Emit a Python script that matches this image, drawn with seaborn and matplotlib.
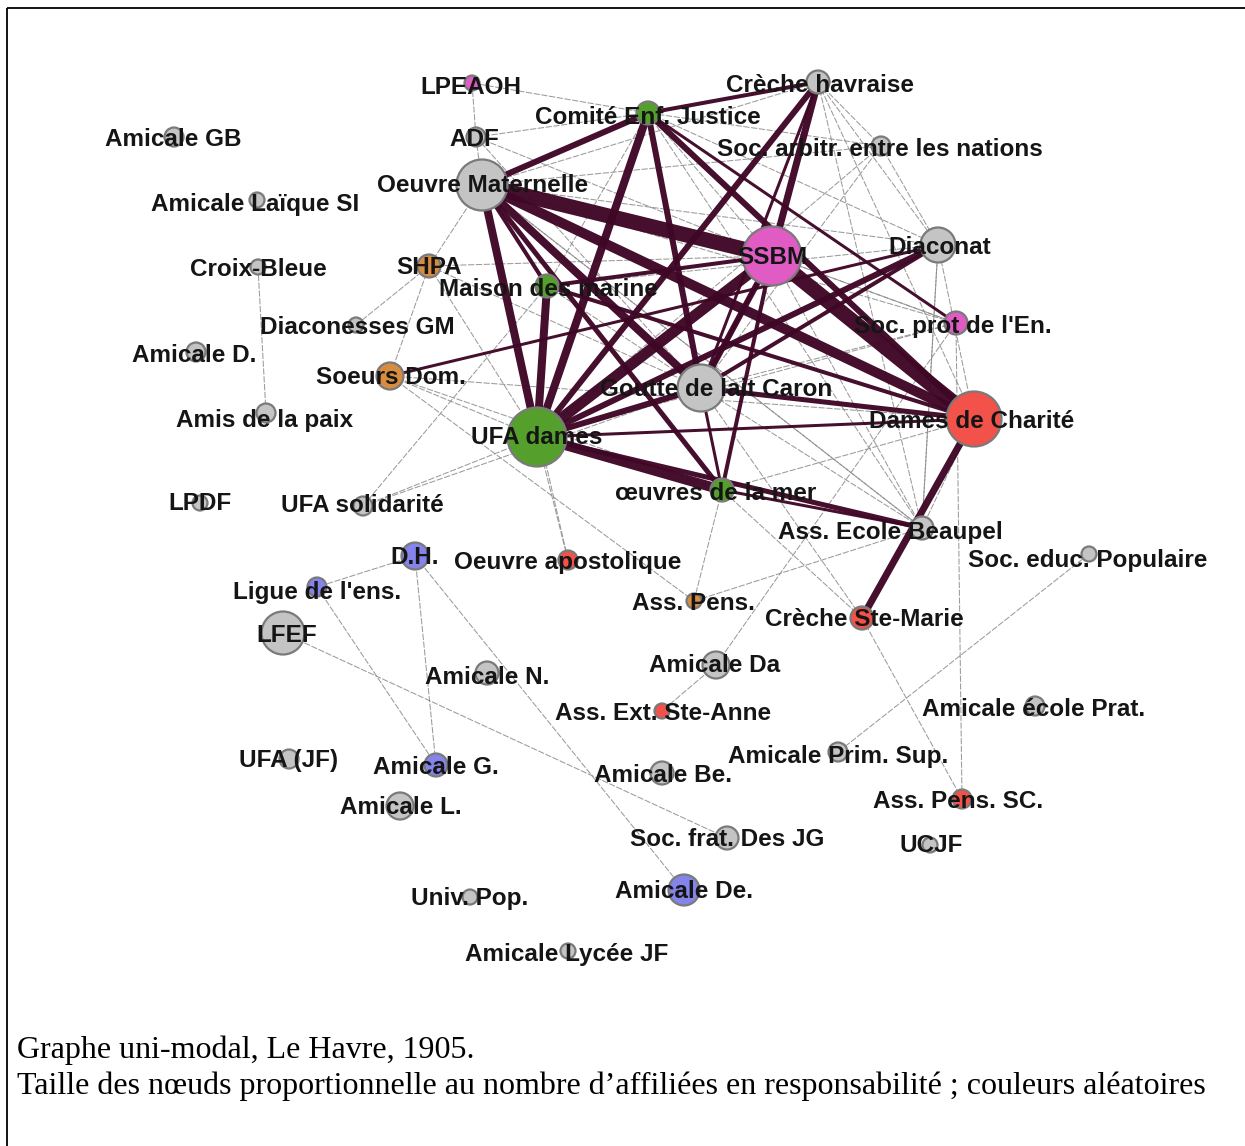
import matplotlib
matplotlib.use("Agg")
import matplotlib.pyplot as plt
import seaborn as sns
import pandas as pd
import numpy as np

# ---------------- data ----------------
nodes = ["Amicale GB", "LPEAOH", "ADF", "Comité Enf. Justice", "Crèche havraise",
         "Soc. arbitr. entre les nations", "Amicale Laïque SI", "Oeuvre Maternelle", "SSBM",
         "Diaconat", "Croix-Bleue", "SHPA", "Maison des marine", "Diaconesses GM",
         "Soc. prot de l'En.", "Amicale D.", "Soeurs Dom.", "Goutte de lait Caron",
         "Dames de Charité", "Amis de la paix", "UFA dames", "LPDF", "UFA solidarité",
         "œuvres de la mer", "Ass. Ecole Beaupel", "D.H.", "Oeuvre apostolique",
         "Soc. educ. Populaire", "Ligue de l'ens.", "Ass. Pens.", "Crèche Ste-Marie",
         "LFEF", "Amicale N.", "Amicale Da", "Ass. Ext. Ste-Anne", "Amicale école Prat.",
         "UFA (JF)", "Amicale G.", "Amicale Prim. Sup.", "Amicale Be.", "Ass. Pens. SC.",
         "Amicale L.", "Soc. frat. Des JG", "UCJF", "Amicale De.", "Univ. Pop.",
         "Amicale Lycée JF"]
# layout coordinates of the nodes (graph layout units)
node_x = [174, 472, 476, 648, 818, 881, 257, 482, 772, 938, 258, 429, 547, 356, 956, 196,
          390, 701, 974, 266, 537, 200, 363, 722, 922, 415, 568, 1089, 317, 694, 862, 283,
          487, 716, 662, 1035, 289, 436, 838, 662, 962, 400, 727, 930, 684, 470, 568]
node_y = [137, 83, 137, 113, 82, 146, 200, 185, 256, 245, 267, 266, 286, 325, 323, 352,
          376, 388, 419, 413, 437, 503, 506, 490, 528, 556, 560, 554, 587, 601, 618, 633,
          673, 665, 711, 706, 759, 765, 752, 773, 799, 806, 838, 845, 890, 897, 951]
# number of affiliated women in charge (node size)
affiliees = [2, 1, 2, 3, 3, 2, 1, 10, 12, 6, 1, 3, 3, 1, 3, 2, 4, 9, 11, 2, 12, 1, 2, 3,
             3, 4, 2, 1, 2, 1, 3, 8, 3, 4, 1, 2, 2, 3, 2, 3, 2, 4, 3, 1, 5, 1, 1]
# random colour group
group = ["gris", "rose", "gris", "vert", "gris", "gris", "gris", "gris", "rose", "gris",
         "gris", "orange", "vert", "gris", "rose", "gris", "orange", "gris", "rouge", "gris",
         "vert", "gris", "gris", "vert", "gris", "bleu", "rouge", "gris", "bleu", "orange",
         "rouge", "gris", "gris", "gris", "rouge", "gris", "gris", "bleu", "gris", "gris",
         "rouge", "gris", "gris", "gris", "bleu", "gris", "gris"]
# label offsets relative to node (layout units)
label_dx = [-1, -1, -2, 0, 2, -1, -2, 1, 0, 2, 0, 0, 1, 1, -3, -2, 1, 15, -2, -1, 0, 0, -1,
            -6, -32, 0, 0, -1, 0, -1, 2, 4, 0, -1, 1, -1, 0, 0, 0, 1, -4, 1, 0, 1, 0, 0, -1]
label_dy = [3, 5, 2, 5, 3, 3, 4, 1, 2, 3, 3, 2, 4, 3, 4, 4, 2, 1, 2, 7, 0, 0, -1, 3, 4, 2,
            3, 7, 5, 3, 1, 2, 5, 0, 3, 4, 2, 3, 4, 3, 3, 1, 1, 1, 1, 2, 4]

# strong ties (weight = number of shared affiliated women)
strong_src = ["Oeuvre Maternelle", "Oeuvre Maternelle", "Oeuvre Maternelle", "Oeuvre Maternelle",
              "Oeuvre Maternelle", "Oeuvre Maternelle", "Oeuvre Maternelle", "SSBM", "SSBM",
              "SSBM", "SSBM", "SSBM", "SSBM", "UFA dames", "UFA dames", "UFA dames", "UFA dames",
              "UFA dames", "UFA dames", "UFA dames", "UFA dames", "Dames de Charité",
              "Dames de Charité", "Dames de Charité", "Comité Enf. Justice", "Comité Enf. Justice",
              "Comité Enf. Justice", "Soeurs Dom.", "Goutte de lait Caron", "Goutte de lait Caron",
              "œuvres de la mer", "Comité Enf. Justice", "Crèche havraise", "Goutte de lait Caron"]
strong_dst = ["SSBM", "Dames de Charité", "UFA dames", "Comité Enf. Justice",
              "Goutte de lait Caron", "œuvres de la mer", "Maison des marine", "Dames de Charité",
              "UFA dames", "Crèche havraise", "Goutte de lait Caron", "Maison des marine",
              "œuvres de la mer", "Diaconat", "Crèche havraise", "Dames de Charité",
              "œuvres de la mer", "Goutte de lait Caron", "Maison des marine", "Ass. Ecole Beaupel",
              "Comité Enf. Justice", "Crèche Ste-Marie", "Goutte de lait Caron", "Maison des marine",
              "Dames de Charité", "Goutte de lait Caron", "Crèche havraise", "Diaconat",
              "Diaconat", "œuvres de la mer", "Ass. Ecole Beaupel", "Soc. prot de l'En.",
              "Goutte de lait Caron", "SSBM"]
strong_w = [15, 10, 8, 6, 8, 5, 4, 15, 11, 7, 6, 4, 4, 6, 6, 3, 10, 6, 8, 5, 8, 7, 5, 4, 6, 6,
            4, 3, 4, 3, 3, 3, 3, 3]

# weak ties (one shared woman)
weak_src = ["LPEAOH", "ADF", "LPEAOH", "ADF", "ADF", "ADF", "Crèche havraise", "Crèche havraise",
            "Crèche havraise", "Soc. arbitr. entre les nations", "Soc. arbitr. entre les nations",
            "Soc. arbitr. entre les nations", "Soc. arbitr. entre les nations", "Croix-Bleue",
            "Diaconesses GM", "SHPA", "SHPA", "SHPA", "SHPA", "Soeurs Dom.", "Soeurs Dom.",
            "Soeurs Dom.", "Soeurs Dom.", "UFA solidarité", "UFA solidarité", "UFA solidarité",
            "D.H.", "D.H.", "D.H.", "Ligue de l'ens.", "LFEF", "Oeuvre apostolique",
            "Oeuvre apostolique", "Ass. Pens.", "Ass. Pens.", "Amicale Da", "Amicale Da",
            "Crèche Ste-Marie", "Crèche Ste-Marie", "Soc. educ. Populaire", "Ass. Pens. SC.",
            "Ass. Ecole Beaupel", "Ass. Ecole Beaupel", "Ass. Ecole Beaupel", "Ass. Ecole Beaupel",
            "Maison des marine", "Maison des marine", "Diaconat", "Diaconat", "Soc. prot de l'En.",
            "Soc. prot de l'En.", "Soc. prot de l'En.", "Comité Enf. Justice", "Comité Enf. Justice",
            "Oeuvre Maternelle", "Oeuvre Maternelle", "Goutte de lait Caron", "Crèche havraise",
            "œuvres de la mer", "Oeuvre Maternelle", "SSBM", "Dames de Charité", "Diaconat",
            "SHPA", "Comité Enf. Justice", "Crèche havraise", "Comité Enf. Justice"]
weak_dst = ["ADF", "Oeuvre Maternelle", "Comité Enf. Justice", "Comité Enf. Justice", "SSBM",
            "Goutte de lait Caron", "Soc. arbitr. entre les nations", "Diaconat",
            "Oeuvre Maternelle", "Comité Enf. Justice", "Goutte de lait Caron", "UFA dames",
            "Oeuvre Maternelle", "Amis de la paix", "SHPA", "Soeurs Dom.", "SSBM",
            "Oeuvre Maternelle", "Goutte de lait Caron", "UFA dames", "œuvres de la mer",
            "Dames de Charité", "Ass. Pens.", "UFA dames", "Goutte de lait Caron",
            "Maison des marine", "Ligue de l'ens.", "Amicale G.", "Amicale De.", "Amicale G.",
            "Soc. frat. Des JG", "UFA dames", "Oeuvre Maternelle", "œuvres de la mer",
            "Ass. Ecole Beaupel", "Ass. Ext. Ste-Anne", "Soc. prot de l'En.", "œuvres de la mer",
            "Ass. Pens. SC.", "Amicale Prim. Sup.", "Soc. prot de l'En.", "SSBM",
            "Goutte de lait Caron", "Oeuvre Maternelle", "Diaconat", "Goutte de lait Caron",
            "Diaconat", "Dames de Charité", "Ass. Ecole Beaupel", "UFA dames", "SSBM",
            "Goutte de lait Caron", "Diaconat", "Maison des marine", "Soc. prot de l'En.",
            "Diaconat", "Crèche Ste-Marie", "Dames de Charité", "Dames de Charité",
            "Ass. Ecole Beaupel", "Soc. prot de l'En.", "Ass. Ecole Beaupel",
            "Soc. arbitr. entre les nations", "UFA dames", "Ass. Ecole Beaupel",
            "Ass. Ecole Beaupel", "SSBM"]

palette = {"gris": "#c4c4c4", "vert": "#55a02c", "rose": "#e05cc4", "rouge": "#f2524a",
           "orange": "#d88c40", "bleu": "#8484ea"}
caption_1 = "Graphe uni-modal, Le Havre, 1905."
caption_2 = "Taille des nœuds proportionnelle au nombre d\u2019affiliées en responsabilité ; couleurs aléatoires"

# ---------------- figure ----------------
sns.set_theme(style="white")
plt.rcParams["font.family"] = ["Liberation Sans", "DejaVu Sans"]

W, H = 1245, 1146
fig = plt.figure(figsize=(W / 100, H / 100), dpi=100)
ax = fig.add_axes([0, 0, 1, 1])

df = pd.DataFrame({"name": nodes, "x": node_x, "y": node_y, "n": affiliees, "group": group})
pos = {n: (x, y) for n, x, y in zip(nodes, node_x, node_y)}

# weak ties
for s, d in zip(weak_src, weak_dst):
    (x0, y0), (x1, y1) = pos[s], pos[d]
    ax.plot([x0, x1], [y0, y1], color="#8a8a8a", lw=0.75, alpha=0.85, zorder=1,
            linestyle=(0, (6, 1.5)))

# strong ties
for s, d, w in zip(strong_src, strong_dst, strong_w):
    (x0, y0), (x1, y1) = pos[s], pos[d]
    ax.plot([x0, x1], [y0, y1], color="#3f0726", lw=w * 0.72, solid_capstyle="butt",
            zorder=2, alpha=0.97)


def radius_px(n):
    return 5.5 + 2.0 * n


size_map = {n: (2 * radius_px(n) * 0.72) ** 2 for n in sorted(set(affiliees))}
sns.scatterplot(data=df, x="x", y="y", hue="group", palette=palette, size="n",
                sizes=size_map, edgecolor="#7a7a7a", linewidth=1.6, legend=False, ax=ax,
                zorder=3, alpha=1)
ax.set_xlim(0, W)
ax.set_ylim(H, 0)
ax.axis("off")

for name, x, y, dx, dy in zip(nodes, node_x, node_y, label_dx, label_dy):
    ax.text(x + dx, y + dy, name, ha="center", va="center", fontsize=17.5, fontweight="bold",
            color="#151515", zorder=4)

# caption
ax.text(17, 1050, caption_1, ha="left", va="center", fontsize=23,
        family=["Liberation Serif", "DejaVu Serif"], color="black")
ax.text(17, 1086, caption_2, ha="left", va="center", fontsize=23,
        family=["Liberation Serif", "DejaVu Serif"], color="black")

# frame (top and left)
ax.plot([7, W], [8, 8], color="black", lw=1.3, solid_capstyle="butt", zorder=5)
ax.plot([7, 7], [8, H], color="black", lw=1.3, solid_capstyle="butt", zorder=5)

fig.savefig("out.png", dpi=100, facecolor="white")
